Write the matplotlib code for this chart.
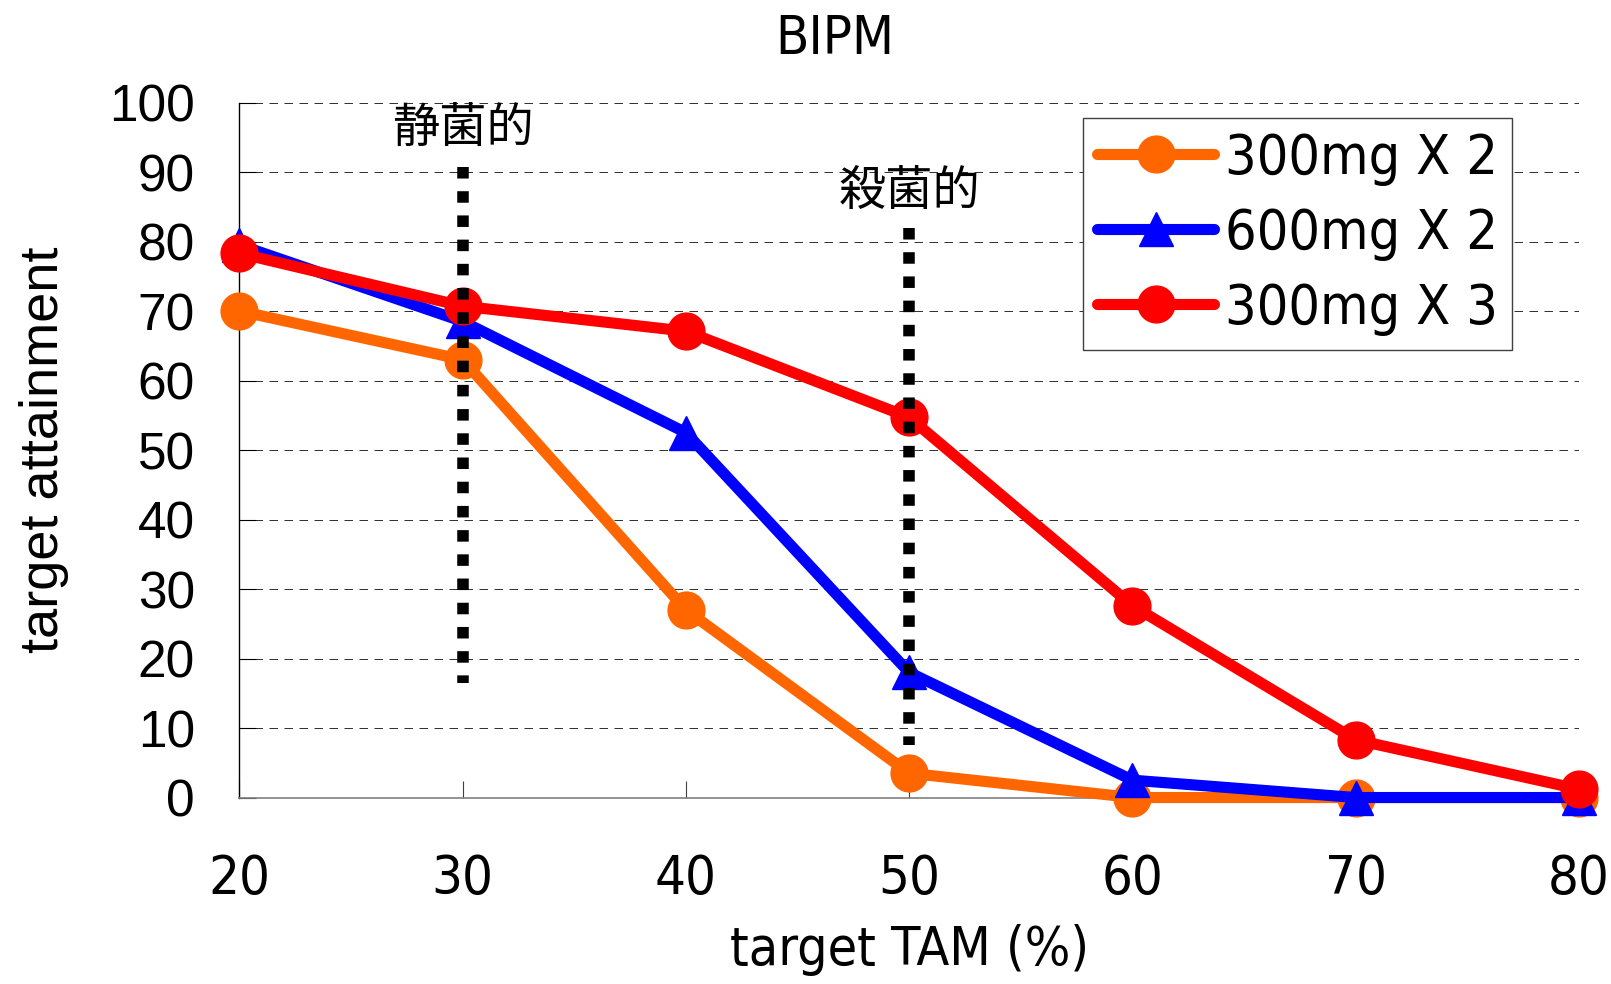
import matplotlib
matplotlib.use('Agg')
import matplotlib.pyplot as plt
from matplotlib import font_manager
from matplotlib.font_manager import FontProperties

# target TAM (%) on x, target attainment (%) on y
tam = [20, 30, 40, 50, 60, 70, 80]
dose_300x2 = [70, 63, 27, 3.5, 0, 0, 0]
dose_600x2 = [79.5, 68.5, 52.5, 18, 2.5, 0, 0]
dose_300x3 = [78.3, 70.7, 67.1, 54.7, 27.6, 8.3, 1.2]
series_labels = ['300mg X 2', '600mg X 2', '300mg X 3']
y_ticks = list(range(0, 101, 10))

# bacteriostatic / bactericidal thresholds
threshold_tam = [30, 50]
threshold_labels = ['静菌的', '殺菌的']


def find_narrow():
    """Look for an installed condensed sans face, regular weight."""
    best = None
    for f in font_manager.fontManager.ttflist:
        fn = f.fname.lower()
        if 'mono' in fn or 'serif' in fn and 'sans' not in fn:
            continue
        if 'bold' in fn or 'italic' in fn or 'oblique' in fn or 'light' in fn:
            continue
        if f.weight not in (400, 'normal', 'regular'):
            continue
        is_narrow = ('narrow' in fn or 'condensed' in fn
                     or f.stretch in ('condensed', 'semi-condensed', 'extra-condensed'))
        if is_narrow:
            rank = 0 if 'liberation' in fn else 1 if 'dejavu' in fn else 2
            if best is None or rank < best[0]:
                best = (rank, f.fname)
    return best[1] if best else None


narrow_file = find_narrow()


def narrow_font(size):
    if narrow_file:
        return FontProperties(fname=narrow_file, size=size)
    return FontProperties(family='Liberation Sans', size=size * 0.86)


regular = 'Liberation Sans'
jp = 'Noto Sans CJK JP'

fig = plt.figure(figsize=(16.11, 9.84), dpi=100)
ax = fig.add_axes([0.1486, 0.1895, 0.8315, 0.7063])

styles = [
    (dose_300x2, '#FF6600', 'o', 26.5),
    (dose_600x2, '#0000FF', '^', 24.5),
    (dose_300x3, '#FF0000', 'o', 26.5),
]
for (vals, color, marker, ms), label in zip(styles, series_labels):
    ax.plot(tam, vals, color=color, marker=marker, ms=ms, linewidth=8,
            solid_capstyle='round', solid_joinstyle='round',
            label=label, clip_on=False, zorder=3)

# dotted threshold lines drawn over the series
spans = [(90.7, 16.5), (82.0, 7.5)]
for xv, (top, bottom) in zip(threshold_tam, spans):
    ax.plot([xv, xv], [top, bottom], color='black', linewidth=8.3,
            linestyle=(0, (1, 1.1)), dash_capstyle='butt', zorder=5)

label_y = [96.3, 87.1]
for xv, yv, txt in zip(threshold_tam, label_y, threshold_labels):
    ax.text(xv, yv, txt, ha='center', va='center', fontsize=34,
            family=[jp, 'DejaVu Sans'], color='black', zorder=6)

ax.set_xlim(20, 80)
ax.set_ylim(0, 100)
ax.set_xticks(tam)
ax.set_yticks(y_ticks)

ax.yaxis.grid(True, color='#333333', linewidth=0.72, linestyle=(0, (8.5, 6.5)))
ax.set_axisbelow(True)

ax.spines['top'].set_visible(False)
ax.spines['right'].set_visible(False)
ax.spines['left'].set_color('black')
ax.spines['left'].set_linewidth(1)
ax.spines['bottom'].set_color('#808080')
ax.spines['bottom'].set_linewidth(1.2)

ax.tick_params(axis='y', direction='in', length=12, width=0.8, color='black', pad=32)
ax.tick_params(axis='x', direction='in', length=12, width=0.8, color='#404040', pad=40)
for lbl in ax.get_yticklabels():
    lbl.set_fontproperties(FontProperties(family=regular, size=37))
for lbl in ax.get_xticklabels():
    lbl.set_fontproperties(narrow_font(39))

ax.set_ylabel('target attainment', fontproperties=FontProperties(family=regular, size=39))
ax.yaxis.label.set_va('center')
ax.yaxis.set_label_coords(-0.146, 0.5)
ax.set_xlabel('target TAM (%)', fontproperties=narrow_font(38.5))
ax.xaxis.label.set_va('center')
ax.xaxis.set_label_coords(0.5, -0.2195)

fig.text(0.518, 0.960, 'BIPM', ha='center', va='center',
         fontproperties=narrow_font(39))

leg = ax.legend(loc='upper right', bbox_to_anchor=(0.95, 0.978),
                prop=narrow_font(40),
                handlelength=2.1, handletextpad=0.2, borderpad=0.25,
                labelspacing=0.38, frameon=True, fancybox=False,
                edgecolor='#404040', framealpha=1, borderaxespad=0)
leg.get_frame().set_linewidth(1)
leg.set_zorder(10)

fig.savefig('out.png', dpi=100, facecolor='white')
